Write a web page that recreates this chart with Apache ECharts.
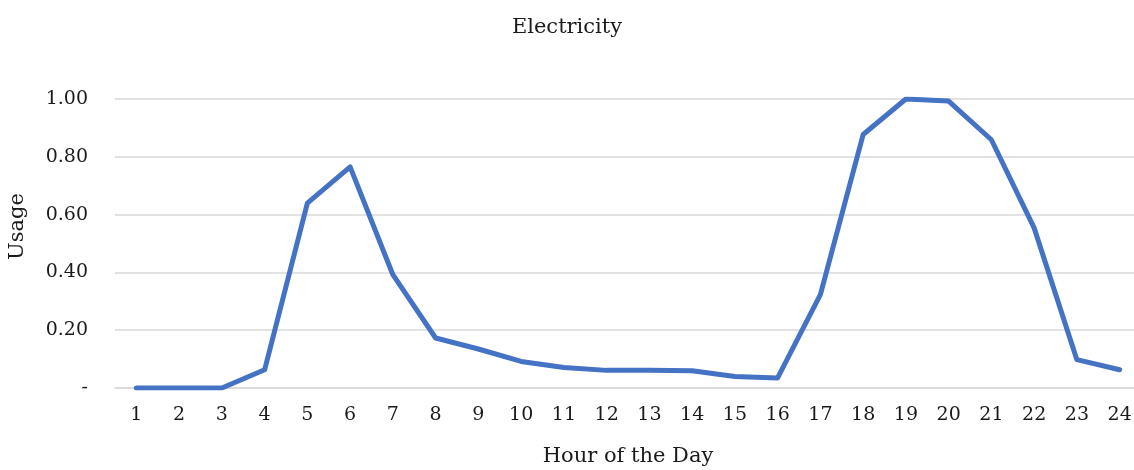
<!DOCTYPE html>
<html>
<head>
<meta charset="utf-8">
<style>
  html, body { margin: 0; padding: 0; background: #ffffff; }
  #chart { width: 1134px; height: 470px; }
</style>
<script src="https://cdn.jsdelivr.net/npm/echarts@6/dist/echarts.min.js"></script>
</head>
<body>
<div id="chart"></div>
<script>
// Hourly electricity usage (normalised to the daily peak)
const hours = ['1','2','3','4','5','6','7','8','9','10','11','12','13','14','15','16','17','18','19','20','21','22','23','24'];
const usage = [0.000, 0.000, 0.000, 0.063, 0.640, 0.765, 0.392, 0.173, 0.135, 0.092, 0.071, 0.061,
               0.061, 0.060, 0.040, 0.035, 0.323, 0.877, 1.000, 0.993, 0.859, 0.554, 0.098, 0.063];
const yTicks = { min: 0, max: 1, step: 0.2 };

const FONT = "'DejaVu Serif', 'Liberation Serif', serif";

const chart = echarts.init(document.getElementById('chart'), null, { renderer: 'canvas' });
chart.setOption({
  backgroundColor: '#ffffff',
  animation: false,
  title: {
    text: 'Electricity',
    left: 'center',
    top: 12,
    textStyle: { fontFamily: FONT, fontSize: 21, fontWeight: 'normal', color: '#1a1a1a' }
  },
  grid: { left: 115, right: -7, top: 99, bottom: 82, containLabel: false, outerBoundsMode: 'none' },
  xAxis: {
    type: 'category',
    data: hours,
    boundaryGap: true,
    name: 'Hour of the Day',
    nameLocation: 'middle',
    nameGap: 58,
    nameTextStyle: { fontFamily: FONT, fontSize: 21, color: '#1a1a1a' },
    axisLine: { show: true, lineStyle: { color: '#d9d9d9', width: 1.5 } },
    axisTick: { show: false },
    axisLabel: { fontFamily: FONT, fontSize: 19, color: '#1a1a1a', margin: 18, interval: 0 },
    splitLine: { show: false }
  },
  yAxis: {
    type: 'value',
    min: yTicks.min,
    max: yTicks.max,
    interval: yTicks.step,
    name: 'Usage',
    nameLocation: 'middle',
    nameGap: 87,
    nameRotate: 90,
    nameTextStyle: { fontFamily: FONT, fontSize: 21, color: '#1a1a1a', padding: [0, 0, 0, 34] },
    axisLine: { show: false },
    axisTick: { show: false },
    axisLabel: {
      fontFamily: FONT, fontSize: 19, color: '#1a1a1a', margin: 27,
      formatter: v => (Math.abs(v) < 1e-9 ? '-' : v.toFixed(2))
    },
    splitLine: { show: true, lineStyle: { color: '#d9d9d9', width: 1.5 } }
  },
  series: [{
    type: 'line',
    data: usage,
    symbol: 'none',
    lineStyle: { color: '#4472C4', width: 5, cap: 'round', join: 'round' }
  }]
});
</script>
</body>
</html>
